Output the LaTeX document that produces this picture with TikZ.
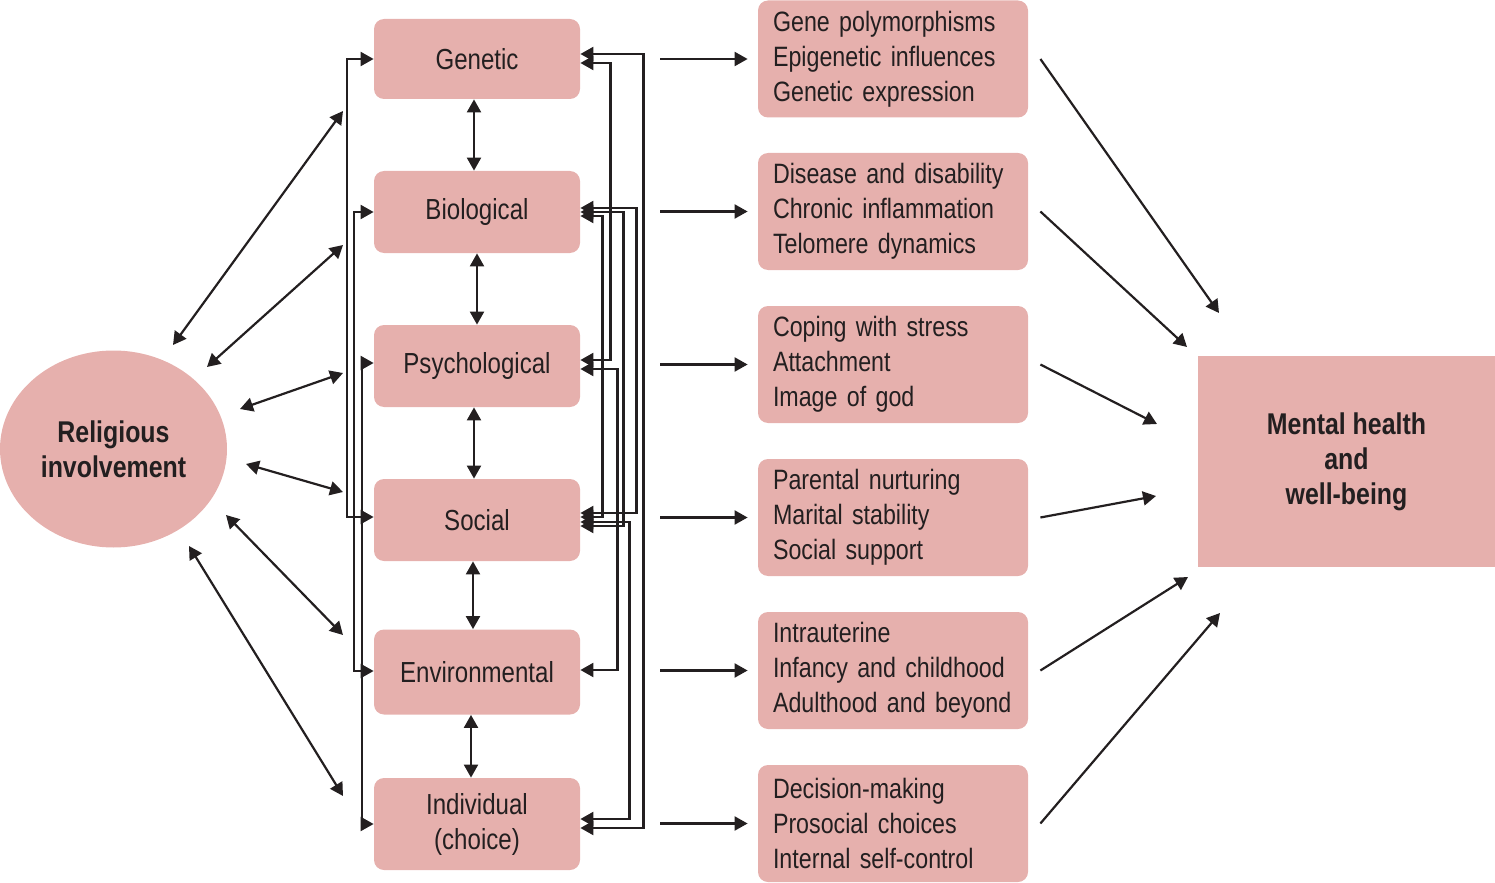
\documentclass[tikz,border=0pt]{standalone}
\usepackage{fontspec}
\setmainfont{Liberation Sans}[FakeStretch=0.83]
\usetikzlibrary{arrows.meta,shapes.geometric,calc}
\definecolor{boxfill}{RGB}{230,176,173}
\definecolor{ink}{RGB}{35,31,32}
\begin{document}
\begin{tikzpicture}[x=0.5pt,y=-0.5pt,
  every node/.style={text=ink},
  link/.style={draw=ink, line width=1.1pt, arrows={-Triangle[length=6.5pt,width=7pt]}},
  dlink/.style={draw=ink, line width=1.1pt, arrows={Triangle[length=6.5pt,width=7pt]-Triangle[length=6.5pt,width=7pt]}},
  midbox/.style={fill=boxfill, rounded corners=5pt, minimum width=103pt, inner sep=0pt, align=center, font=\fontsize{14.5}{17.5}\selectfont},
  rbox/.style={fill=boxfill, rounded corners=5pt, minimum width=135pt, minimum height=58.5pt, text width=120pt, inner xsep=7.5pt, inner ysep=0pt, align=left, font=\fontsize{14}{17.5}\selectfont},
  bigtext/.style={fill=boxfill, inner sep=0pt, align=center, font=\fontsize{15}{17.5}\selectfont\bfseries},
]
\useasboundingbox (0,0) rectangle (1495,883);

% source ellipse and target box
\node[bigtext, ellipse, minimum width=113.5pt, minimum height=98.5pt] (rel) at (113.5,449) {Religious\\involvement};
\node[bigtext, rectangle, minimum width=148.5pt, minimum height=105.5pt] (mh) at (1346.5,461.5) {Mental health\\and\\well-being};

% middle column
\node[midbox, minimum height=40pt] (gen) at (477,59) {Genetic};
\node[midbox, minimum height=41pt] (bio) at (477,212) {Biological};
\node[midbox, minimum height=41pt] (psy) at (477,366) {Psychological};
\node[midbox, minimum height=41pt] (soc) at (477,520) {Social};
\node[midbox, minimum height=42.5pt] (env) at (477,672) {Environmental};
\node[midbox, minimum height=46pt] (ind) at (477,824) {Individual\\(choice)};

% right column
\node[rbox] (r1) at (893,59) {Gene polymorphisms\\Epigenetic influences\\Genetic expression};
\node[rbox] (r2) at (893,211.5) {Disease and disability\\Chronic inflammation\\Telomere dynamics};
\node[rbox] (r3) at (893,364.5) {Coping with stress\\Attachment\\Image of god};
\node[rbox] (r4) at (893,517.5) {Parental nurturing\\Marital stability\\Social support};
\node[rbox] (r5) at (893,670.5) {Intrauterine\\Infancy and childhood\\Adulthood and beyond};
\node[rbox] (r6) at (893,823.5) {Decision-making\\Prosocial choices\\Internal self-control};

% free ends of the left double arrows
\coordinate (a1s) at (173,345); \coordinate (a1e) at (343,111);
\coordinate (a2s) at (207,367); \coordinate (a2e) at (343,245);
\coordinate (a3s) at (240,409); \coordinate (a3e) at (343,373);
\coordinate (a4s) at (246,464); \coordinate (a4e) at (343,492);
\coordinate (a5s) at (226,515); \coordinate (a5e) at (343,635);
\coordinate (a6s) at (189,546); \coordinate (a6e) at (343,796);
\foreach \i in {1,...,6} { \draw[dlink] (a\i s) -- (a\i e); }

% free ends of the arrows into mental health
\coordinate (m1) at (1219,313);
\coordinate (m2) at (1187,347);
\coordinate (m3) at (1157,424);
\coordinate (m4) at (1156,496);
\coordinate (m5) at (1188,577);
\coordinate (m6) at (1220,613);
\foreach \i in {1,...,6} { \draw[link] ($(r\i.east)+(12,0)$) -- (m\i); }

% vertical double arrows in the middle column
\draw[dlink] ($(gen.south)+(-3,0)$) -- ($(bio.north)+(-3,0)$);
\draw[dlink] (bio.south) -- (psy.north);
\draw[dlink] ($(psy.south)+(-3,0)$) -- ($(soc.north)+(-3,0)$);
\draw[dlink] ($(soc.south)+(-4,0)$) -- ($(env.north)+(-4,0)$);
\draw[dlink] ($(env.south)+(-6,0)$) -- ($(ind.north)+(-6,0)$);

% horizontal arrows middle -> right
\draw[link] ($(gen.east |- r1.west)+(80,0)$) -- ($(r1.west)+(-10,0)$);
\draw[link] ($(bio.east |- r2.west)+(80,0)$) -- ($(r2.west)+(-10,0)$);
\draw[link] ($(psy.east |- r3.west)+(80,0)$) -- ($(r3.west)+(-10,0)$);
\draw[link] ($(soc.east |- r4.west)+(80,0)$) -- ($(r4.west)+(-10,0)$);
\draw[link] ($(env.east |- r5.west)+(80,0)$) -- ($(r5.west)+(-10,0)$);
\draw[link] ($(ind.east |- r6.west)+(80,0)$) -- ($(r6.west)+(-10,0)$);

% left brackets
\draw[dlink] (gen.west) -- ++(-27,0) |- ($(soc.west)+(0,-3)$);
\draw[dlink] (bio.west) -- ++(-20,0) |- ($(env.west)+(0,-1)$);
\draw[dlink] ($(psy.west)+(0,-3)$) -- ++(-12,0) |- (ind.west);

% right brackets
\draw[dlink] ($(gen.east)+(0,-5)$) -- ++(63,0) |- ($(ind.east)+(0,4)$);
\draw[dlink] ($(gen.east)+(0,4)$) -- ++(30,0) |- ($(psy.east)+(0,-6)$);
\draw[dlink] ($(bio.east)+(0,-4)$) -- ++(56,0) |- ($(soc.east)+(0,-7)$);
\draw[dlink] (bio.east) -- ++(43,0) |- ($(soc.east)+(0,6)$);
\draw[dlink] ($(bio.east)+(0,4)$) -- ++(22,0) |- ($(soc.east)+(0,-3)$);
\draw[dlink] ($(psy.east)+(0,3)$) -- ++(37,0) |- ($(env.east)+(0,-2)$);
\draw[dlink] ($(soc.east)+(0,2)$) -- ++(49,0) |- ($(ind.east)+(0,-5)$);
\end{tikzpicture}
\end{document}
